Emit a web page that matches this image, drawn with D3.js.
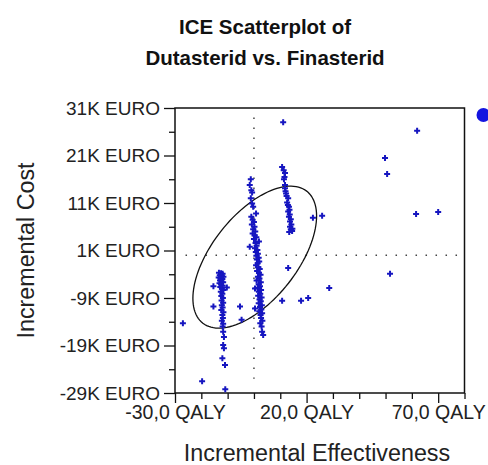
<!DOCTYPE html>
<html>
<head>
<meta charset="utf-8">
<script src="https://cdn.jsdelivr.net/npm/d3@7/dist/d3.min.js"></script>
<style>
  html, body { margin: 0; padding: 0; background: #fff; }
  svg { display: block; font-family: "Liberation Sans", Arial, sans-serif; }
</style>
</head>
<body>
<svg id="chart" width="488" height="465"></svg>
<script>
// ---------- data ----------
const titleLines = ["ICE Scatterplot of", "Dutasterid vs. Finasterid"];
const xLabel = "Incremental Effectiveness";
const yLabel = "Incremental Cost";

const xMajorTicks = [-30, 20, 70];
const xMajorLabels = ["-30,0 QALY", "20,0 QALY", "70,0 QALY"];
const xMinorTicks = [-20, -10, 0, 10, 30, 40, 50, 60, 80];
const yMajorTicks = [31, 21, 11, 1, -9, -19, -29];
const yMajorLabels = ["31K EURO", "21K EURO", "11K EURO", "1K EURO", "-9K EURO", "-19K EURO", "-29K EURO"];
const yMinorTicks = [26, 16, 6, -4, -14, -24];

// incremental effectiveness (QALY) of each simulated pair
const effect = [
  // cluster near 0 QALY
  -1.2,-1.6,-1.0,-0.7,-1.2,-0.7,-0.3,0.8,-1.0,-0.5,0.0,-0.8,0.2,-0.3,0.5,-0.5,0.3,0.9,0.0,1.9,0.6,-1.6,1.0,0.4,1.3,0.7,1.5,0.9,1.8,1.1,
  2.0,1.4,0.8,1.7,2.2,1.2,1.9,2.5,1.5,2.1,1.0,2.6,1.8,2.3,0.4,1.4,2.7,1.9,2.4,1.6,2.9,2.1,2.6,1.8,3.0,2.3,0.4,2.8,2.0,3.1,
  2.5,2.7,3.2,2.4,2.9,3.1,3.5,
  // cluster near -12 QALY
  -13.3,-12.5,-11.9,-13.0,-12.2,-11.6,-13.4,-12.7,-12.0,-12.9,-12.3,-11.7,-13.1,-12.5,-11.9,-12.8,-12.2,-11.6,-12.6,-12.0,
  -12.4,-11.8,-12.3,-11.7,-12.2,-11.9,-12.4,-11.6,-12.0,-11.8,-12.2,-11.7,-11.9,-11.7,-11.4,-11.7,-11.4,-12.0,-11.0,-10.9,
  -15.4,-10.3,-15.4,-5.3,-4.7,-19.7,-27.0,
  // cluster near 12 QALY
  11.1,10.7,11.3,11.8,11.6,11.4,11.8,11.8,12.0,12.2,12.4,13.0,12.6,12.9,13.3,13.5,13.0,13.6,13.3,14.0,13.7,14.2,13.7,14.6,14.0,13.4,14.5,
  // scattered
  22.4,25.9,13.0,10.7,17.9,20.6,28.6,49.8,50.6,62.0,61.6,70.0,51.7
];
// incremental cost (K EURO) of each simulated pair
const cost = [
  16.0,14.8,13.7,13.2,12.0,10.9,10.2,8.8,8.1,7.5,7.0,6.5,6.0,5.5,5.0,4.6,4.2,3.8,3.4,2.9,2.6,1.8,2.0,1.5,1.1,0.7,0.3,-0.1,-0.5,-0.9,
  -1.3,-1.7,-2.1,-2.5,-2.9,-3.3,-3.7,-4.1,-4.5,-4.9,-5.3,-5.7,-6.1,-6.5,-7.0,-6.9,-7.3,-7.7,-8.1,-8.5,-8.9,-9.3,-9.7,-10.1,-10.5,-10.9,-11.2,-11.4,-11.8,-12.2,
  -12.6,-13.2,-13.8,-14.3,-15.0,-16.1,-16.8,
  -3.7,-3.8,-3.9,-4.2,-4.3,-4.5,-4.7,-4.8,-5.0,-5.3,-5.5,-5.7,-5.9,-6.1,-6.4,-6.7,-7.0,-7.3,-7.7,-8.1,
  -8.6,-9.0,-9.5,-10.0,-10.5,-11.0,-11.5,-12.0,-12.6,-13.2,-13.8,-14.4,-15.0,-16.1,-17.2,-18.9,-19.6,-21.7,-23.1,-28.2,
  -6.5,-6.8,-10.8,-10.8,-13.6,-26.5,-14.3,
  28.0,18.6,17.9,17.3,16.5,16.0,14.8,14.1,13.5,13.0,12.5,12.0,11.1,10.6,10.2,9.6,9.2,8.6,8.1,7.6,7.1,6.5,6.0,5.6,5.5,4.9,5.1,
  7.9,8.3,-2.7,-9.6,-9.6,-9.0,-6.9,20.5,17.1,26.2,8.7,9.1,-3.9
];

// confidence ellipse: centre (QALY, K EURO), spreads and correlation
const ellipseCenter = [0.3, -0.4];
const ellipseSpread = [23.5, 14.95];
const ellipseRho = 0.58;

// reference cross-hair (origin) extents
const refVertical = [29, -26];   // K EURO span of dotted line at 0 QALY
const refHorizontal = [-26, 78]; // QALY span of dotted line at 0 EURO

// ---------- layout ----------
const svg = d3.select("#chart");
const L = 175, R = 464.5, T = 108, B = 393;
const x = d3.scaleLinear().domain([-30, 80]).range([L, R]);
const y = d3.scaleLinear().domain([-29, 31]).range([B, T]);
const blue = "#1616c0";

// title
svg.append("text").attr("x", 265).attr("y", 34).attr("text-anchor", "middle")
  .attr("font-size", 20.5).attr("font-weight", "bold").attr("fill", "#111")
  .text(titleLines[0]);
svg.append("text").attr("x", 265).attr("y", 65).attr("text-anchor", "middle")
  .attr("font-size", 20.5).attr("font-weight", "bold").attr("fill", "#111")
  .text(titleLines[1]);

// axis titles
svg.append("text").attr("transform", `translate(34,${(T + B) / 2}) rotate(-90)`)
  .attr("text-anchor", "middle").attr("font-size", 23.3).attr("fill", "#222")
  .text(yLabel);
svg.append("text").attr("x", 317).attr("y", 461).attr("text-anchor", "middle")
  .attr("font-size", 23.3).attr("fill", "#222")
  .text(xLabel);

// frame
svg.append("rect").attr("x", L).attr("y", T).attr("width", R - L).attr("height", B - T)
  .attr("fill", "none").attr("stroke", "#111").attr("stroke-width", 1.5);

// y axis
const yAxisMajor = d3.axisLeft(y).tickValues(yMajorTicks).tickSize(11).tickPadding(4)
  .tickFormat((d, i) => yMajorLabels[i]);
const gy = svg.append("g").attr("transform", `translate(${L},0)`).call(yAxisMajor);
gy.select(".domain").remove();
gy.selectAll("text").attr("font-size", 19).attr("fill", "#222").attr("font-family", "Liberation Sans, Arial, sans-serif");
gy.selectAll("line").attr("stroke", "#111").attr("stroke-width", 1.3);
const gyMinor = svg.append("g").attr("transform", `translate(${L},0)`)
  .call(d3.axisLeft(y).tickValues(yMinorTicks).tickSize(6).tickFormat(""));
gyMinor.select(".domain").remove();
gyMinor.selectAll("line").attr("stroke", "#111").attr("stroke-width", 1.3);

// x axis
const xAxisMajor = d3.axisBottom(x).tickValues(xMajorTicks).tickSize(10).tickPadding(2)
  .tickFormat((d, i) => xMajorLabels[i]);
const gx = svg.append("g").attr("transform", `translate(0,${B})`).call(xAxisMajor);
gx.select(".domain").remove();
gx.selectAll("text").attr("font-size", 19.5).attr("fill", "#222").attr("font-family", "Liberation Sans, Arial, sans-serif");
gx.selectAll("line").attr("stroke", "#111").attr("stroke-width", 1.3);
const gxMinor = svg.append("g").attr("transform", `translate(0,${B})`)
  .call(d3.axisBottom(x).tickValues(xMinorTicks).tickSize(6).tickFormat(""));
gxMinor.select(".domain").remove();
gxMinor.selectAll("line").attr("stroke", "#111").attr("stroke-width", 1.3);

// dotted reference lines
svg.append("line").attr("x1", x(0)).attr("x2", x(0))
  .attr("y1", y(refVertical[0])).attr("y2", y(refVertical[1]))
  .attr("stroke", "#444").attr("stroke-width", 1.5).attr("stroke-dasharray", "1.5 8.5");
svg.append("line").attr("x1", x(refHorizontal[0])).attr("x2", x(refHorizontal[1]))
  .attr("y1", y(0)).attr("y2", y(0))
  .attr("stroke", "#444").attr("stroke-width", 1.5).attr("stroke-dasharray", "1.5 8.5");

// ellipse
const angles = d3.range(0, 361, 3).map(a => a * Math.PI / 180);
const ellPts = angles.map(t => {
  const ex = ellipseCenter[0] + ellipseSpread[0] * Math.cos(t);
  const ey = ellipseCenter[1] + ellipseSpread[1] * (ellipseRho * Math.cos(t) + Math.sqrt(1 - ellipseRho * ellipseRho) * Math.sin(t));
  return [x(ex), y(ey)];
});
svg.append("path").attr("d", d3.line().curve(d3.curveLinearClosed)(ellPts))
  .attr("fill", "none").attr("stroke", "#111").attr("stroke-width", 1.3);

// points
const pts = effect.map((e, i) => ({ e, c: cost[i] }));
const sym = d3.symbol().type(d3.symbolCross).size(20);
svg.append("g").selectAll("path").data(pts).join("path")
  .attr("transform", d => `translate(${x(d.e)},${y(d.c)})`)
  .attr("d", sym).attr("fill", blue);

// legend marker
svg.append("circle").attr("cx", R + 19).attr("cy", T + 7).attr("r", 7).attr("fill", "#1414e0");
</script>
</body>
</html>
